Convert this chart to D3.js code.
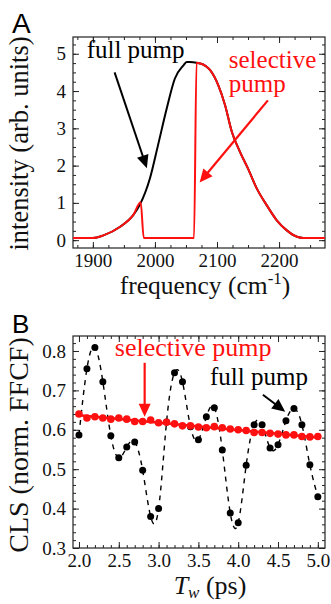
<!DOCTYPE html>
<html>
<head>
<meta charset="utf-8">
<script src="https://cdn.jsdelivr.net/npm/d3@7"></script>
<style>
  body { margin: 0; background: #fff; }
  svg { display: block; }
</style>
</head>
<body>
<svg id="chart" width="331" height="604"></svg>
<script>
// ---- panel A : spectra ----
var freqFull = [1868, 1900, 1917, 1944, 1965, 1976, 1992, 2005, 2019, 2032, 2046, 2051, 2056, 2070,
                2073, 2089, 2102, 2113, 2124, 2137, 2150, 2164, 2180, 2196, 2212, 2229, 2239, 2274];
var intFull  = [0.06, 0.06, 0.13, 0.36, 0.67, 0.96, 1.66, 2.55, 3.53, 4.33, 4.69, 4.78, 4.78, 4.75,
                4.74, 4.56, 4.16, 3.62, 2.90, 2.37, 1.92, 1.39, 0.94, 0.54, 0.27, 0.09, 0.06, 0.06];
var freqSel  = [1868, 1900, 1917, 1944, 1965, 1977, 1982, 2063, 2067, 2070, 2073, 2089, 2102, 2113,
                2124, 2137, 2150, 2164, 2180, 2196, 2212, 2229, 2239, 2274];
var intSel   = [0.06, 0.06, 0.13, 0.36, 0.67, 1.02, 0.06, 0.06, 4.76, 4.75, 4.74, 4.56, 4.16, 3.62,
                2.90, 2.37, 1.92, 1.39, 0.94, 0.54, 0.27, 0.09, 0.06, 0.06];
var freqTicks = [1900, 2000, 2100, 2200];
var intTicks  = [0, 1, 2, 3, 4, 5];

// ---- panel B : CLS decays ----
var tw      = [2.0, 2.1, 2.2, 2.3, 2.4, 2.5, 2.6, 2.7, 2.8, 2.9, 3.0, 3.1, 3.2, 3.3, 3.4, 3.5,
               3.6, 3.7, 3.8, 3.9, 4.0, 4.1, 4.2, 4.3, 4.4, 4.5, 4.6, 4.7, 4.8, 4.9, 5.0];
var clsFull = [0.587, 0.755, 0.809, 0.722, 0.585, 0.529, 0.556, 0.569, 0.497, 0.380, 0.400,
               0.620, 0.745, 0.722, 0.608, 0.575, 0.633, 0.656, 0.549, 0.389, 0.364, 0.510,
               0.613, 0.613, 0.554, 0.562, 0.623, 0.654, 0.613, 0.511, 0.430];
var clsSel  = [0.640, 0.630, 0.633, 0.630, 0.627, 0.630, 0.627, 0.621, 0.621, 0.625, 0.618,
               0.619, 0.615, 0.610, 0.610, 0.607, 0.605, 0.608, 0.605, 0.602, 0.600, 0.598,
               0.593, 0.593, 0.591, 0.589, 0.587, 0.587, 0.583, 0.582, 0.583];
var twTicks  = [2.0, 2.5, 3.0, 3.5, 4.0, 4.5, 5.0];
var clsTicks = [0.3, 0.4, 0.5, 0.6, 0.7, 0.8];

var RED = "#ff1010";
var SERIF = "'Liberation Serif', 'Times New Roman', serif";
var SANS = "'Liberation Sans', Arial, sans-serif";
var svg = d3.select("#chart");

// plain serif text helper
function label(g, x, y, size, color, str) {
    return g.append("text").attr("x", x).attr("y", y)
        .style("font-family", SERIF).style("font-size", size + "px")
        .attr("fill", color).text(str);
}

// draws a boxed frame with inward ticks on all four sides
function frame(g, x, y, xMajor, xMinorStep, yMajor, yMinorStep, xFmt, yFmt) {
    var x0 = x.range()[0], x1 = x.range()[1];
    var y0 = y.range()[0], y1 = y.range()[1];
    var xMinor = d3.range(Math.ceil(x.domain()[0] / xMinorStep) * xMinorStep, x.domain()[1], xMinorStep);
    var yMinor = d3.range(Math.ceil(y.domain()[0] / yMinorStep) * yMinorStep, y.domain()[1], yMinorStep);

    function style(a) {
        a.select(".domain").remove();
        a.selectAll("line").attr("stroke", "#222").attr("stroke-width", 1);
        a.selectAll("text").style("font-family", SERIF).style("font-size", "19px").attr("fill", "#111");
    }
    // minor ticks
    g.append("g").attr("transform", "translate(0," + y0 + ")")
        .call(d3.axisBottom(x).tickValues(xMinor).tickSize(-3).tickFormat("")).call(style);
    g.append("g").attr("transform", "translate(0," + y1 + ")")
        .call(d3.axisTop(x).tickValues(xMinor).tickSize(-3).tickFormat("")).call(style);
    g.append("g").attr("transform", "translate(" + x0 + ",0)")
        .call(d3.axisLeft(y).tickValues(yMinor).tickSize(-3).tickFormat("")).call(style);
    g.append("g").attr("transform", "translate(" + x1 + ",0)")
        .call(d3.axisRight(y).tickValues(yMinor).tickSize(-3).tickFormat("")).call(style);
    // major ticks
    var bx = g.append("g").attr("transform", "translate(0," + y0 + ")")
        .call(d3.axisBottom(x).tickValues(xMajor).tickSizeInner(-6).tickSizeOuter(0).tickPadding(6).tickFormat(xFmt)).call(style);
    bx.selectAll("text").attr("dy", "0.71em");
    g.append("g").attr("transform", "translate(0," + y1 + ")")
        .call(d3.axisTop(x).tickValues(xMajor).tickSize(-6).tickFormat("")).call(style);
    g.append("g").attr("transform", "translate(" + x0 + ",0)")
        .call(d3.axisLeft(y).tickValues(yMajor).tickSizeInner(-6).tickSizeOuter(0).tickPadding(7).tickFormat(yFmt)).call(style);
    g.append("g").attr("transform", "translate(" + x1 + ",0)")
        .call(d3.axisRight(y).tickValues(yMajor).tickSize(-6).tickFormat("")).call(style);
    g.append("rect")
        .attr("x", x0).attr("y", y1).attr("width", x1 - x0).attr("height", y0 - y1)
        .attr("fill", "none").attr("stroke", "#222").attr("stroke-width", 1.2);
}

// arrow with filled triangular head, given in data units
function arrow(g, x, y, from, to, color, width) {
    var ax = x(from[0]), ay = y(from[1]), bx = x(to[0]), by = y(to[1]);
    var ang = Math.atan2(by - ay, bx - ax);
    var hl = 13, hw = 6;
    var cx = bx - hl * Math.cos(ang), cy = by - hl * Math.sin(ang);
    g.append("line")
        .attr("x1", ax).attr("y1", ay).attr("x2", cx + 2 * Math.cos(ang)).attr("y2", cy + 2 * Math.sin(ang))
        .attr("stroke", color).attr("stroke-width", width);
    g.append("path")
        .attr("d", "M" + bx + "," + by +
            "L" + (cx - hw * Math.sin(ang)) + "," + (cy + hw * Math.cos(ang)) +
            "L" + (cx + hw * Math.sin(ang)) + "," + (cy - hw * Math.cos(ang)) + "Z")
        .attr("fill", color);
}

// ================= Panel A =================
var xA = d3.scaleLinear().domain([1868, 2274]).range([73, 325]);
var yA = d3.scaleLinear().domain([-0.21, 5.45]).range([248, 37]);
var gA = svg.append("g");

frame(gA, xA, yA, freqTicks, 25, intTicks, 0.25, d3.format("d"), d3.format("d"));

var lineA = d3.line().curve(d3.curveMonotoneX);
gA.append("path")
    .attr("d", lineA(freqFull.map(function(f, i) { return [xA(f), yA(intFull[i])]; })))
    .attr("fill", "none").attr("stroke", "#000").attr("stroke-width", 2);
gA.append("path")
    .attr("d", lineA(freqSel.map(function(f, i) { return [xA(f), yA(intSel[i])]; })))
    .attr("fill", "none").attr("stroke", RED).attr("stroke-width", 2);

label(gA, xA(1890), yA(4.88), 25, "#000", "full pump");
label(gA, xA(2119), yA(4.62), 25, RED, "selective");
label(gA, xA(2119), yA(3.97), 25, RED, "pump");
arrow(gA, xA, yA, [1935, 4.5], [1987, 1.93], "#000", 2);
arrow(gA, xA, yA, [2182, 3.75], [2072, 1.55], RED, 2.2);

label(gA, 0, 0, 26.5, "#111", "intensity (arb. units)")
    .attr("transform", "translate(28," + ((yA.range()[0] + yA.range()[1]) / 2 + 1) + ") rotate(-90)")
    .attr("text-anchor", "middle");
var xlabA = label(gA, 205, 294, 25.5, "#111", null).attr("text-anchor", "middle");
xlabA.append("tspan").text("frequency (cm");
xlabA.append("tspan").style("font-size", "17px").attr("dy", -10).text("-1");
xlabA.append("tspan").attr("dy", 10).text(")");

svg.append("text").attr("x", 12).attr("y", 33)
    .style("font-family", SANS).style("font-size", "28px")
    .attr("fill", "#000").text("A");

// ================= Panel B =================
var xB = d3.scaleLinear().domain([1.925, 5.09]).range([73, 325]);
var yB = d3.scaleLinear().domain([0.3, 0.838]).range([548, 336]);
var gB = svg.append("g");

frame(gB, xB, yB, twTicks, 0.1, clsTicks, 0.02, d3.format(".1f"), d3.format(".1f"));

// dashed smooth curve through full-pump points
gB.append("path")
    .attr("d", d3.line().curve(d3.curveNatural)(tw.map(function(t, i) { return [xB(t), yB(clsFull[i])]; })))
    .attr("fill", "none").attr("stroke", "#000").attr("stroke-width", 1.4)
    .attr("stroke-dasharray", "5,5");

// linear fit through selective-pump points
var mX = d3.mean(tw), mY = d3.mean(clsSel);
var slope = d3.sum(tw, function(t, i) { return (t - mX) * (clsSel[i] - mY); }) /
            d3.sum(tw, function(t) { return (t - mX) * (t - mX); });
var icpt = mY - slope * mX;
gB.append("line")
    .attr("x1", xB(tw[0])).attr("y1", yB(icpt + slope * tw[0]))
    .attr("x2", xB(tw[tw.length - 1])).attr("y2", yB(icpt + slope * tw[tw.length - 1]))
    .attr("stroke", RED).attr("stroke-width", 2.5);

gB.selectAll("circle.full").data(tw).enter().append("circle")
    .attr("class", "full")
    .attr("cx", function(t) { return xB(t); })
    .attr("cy", function(t, i) { return yB(clsFull[i]); })
    .attr("r", 3.5).attr("fill", "#000");
gB.selectAll("circle.sel").data(tw).enter().append("circle")
    .attr("class", "sel")
    .attr("cx", function(t) { return xB(t); })
    .attr("cy", function(t, i) { return yB(clsSel[i]); })
    .attr("r", 3.8).attr("fill", RED);

label(gB, xB(2.45), yB(0.786), 26, RED, "selective pump");
label(gB, xB(3.646), yB(0.714), 25, "#000", "full pump");
arrow(gB, xB, yB, [2.825, 0.77], [2.825, 0.633], RED, 2.2);
arrow(gB, xB, yB, [4.31, 0.689], [4.59, 0.646], "#000", 2);

label(gB, 0, 0, 28, "#111", "CLS (norm. FFCF)")
    .attr("transform", "translate(28," + ((yB.range()[0] + yB.range()[1]) / 2 + 3) + ") rotate(-90)")
    .attr("text-anchor", "middle");
var xlabB = label(gB, 210, 594, 26, "#111", null).attr("text-anchor", "middle");
xlabB.append("tspan").style("font-style", "italic").text("T");
xlabB.append("tspan").style("font-style", "italic").style("font-size", "17px").attr("dy", 4).text("w");
xlabB.append("tspan").attr("dy", -4).text(" (ps)");

svg.append("text").attr("x", 12).attr("y", 333)
    .style("font-family", SANS).style("font-size", "26px")
    .attr("fill", "#000").text("B");
</script>
</body>
</html>
